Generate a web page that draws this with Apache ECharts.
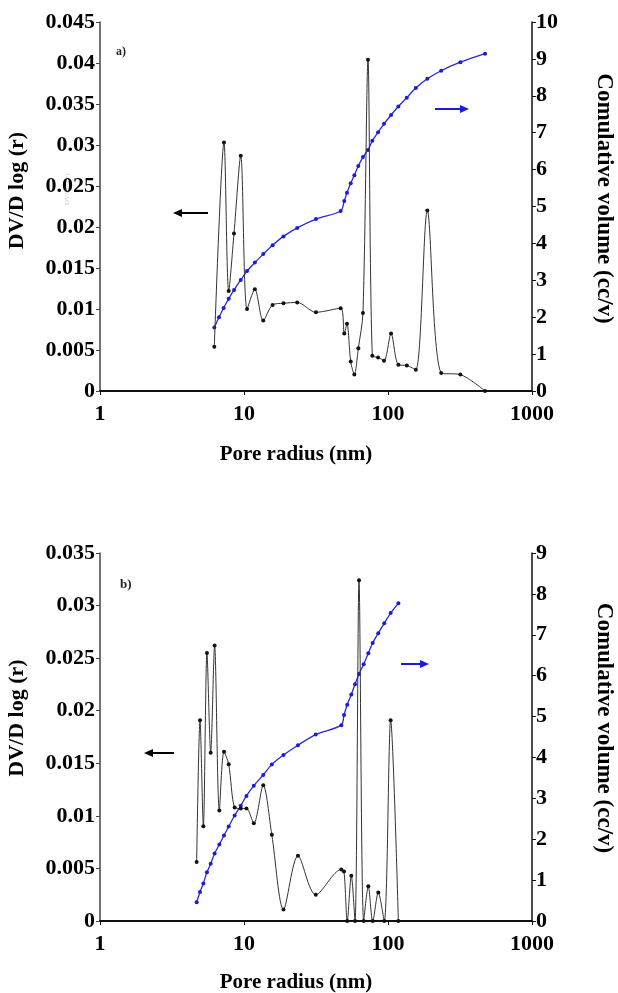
<!DOCTYPE html>
<html><head><meta charset="utf-8">
<script src="https://cdn.jsdelivr.net/npm/echarts@6/dist/echarts.min.js"></script>
<style>html,body{margin:0;padding:0;background:#fff}#c{width:618px;height:993px}</style>
</head><body><div id="c"></div>
<script>
// ---- Chart a) ----
const aPsdR = [6.22,7.26,7.83,8.52,9.49,10.5,11.9,13.6,15.8,18.8,23.4,31.6,46.9,49.7,51.9,55.1,58.4,62.2,67,72.6,77.8,85.3,93.8,105,118,135,156,187.5,234,318,472];
const aPsd  = [0.0054,0.0303,0.0122,0.0192,0.0287,0.0100,0.0124,0.0086,0.0105,0.0107,0.0108,0.0096,0.0101,0.0070,0.0082,0.0036,0.0020,0.0052,0.0095,0.0404,0.0043,0.0041,0.0037,0.0070,0.0032,0.0031,0.0026,0.0220,0.0022,0.0020,0.0];
const aCumR = [6.22,6.7,7.22,7.83,8.53,9.49,10.5,11.9,13.6,15.8,18.8,23.4,31.6,46.9,49.7,51.9,55.1,58.4,62.2,67,72.6,77.8,85.3,93.8,105,118,135,156,187.5,234,318,472];
const aCum  = [1.72,2.00,2.25,2.50,2.74,3.01,3.25,3.48,3.71,3.95,4.19,4.42,4.66,4.88,5.15,5.37,5.63,5.85,6.10,6.34,6.53,6.78,7.01,7.24,7.48,7.71,7.95,8.21,8.46,8.68,8.91,9.14];
// ---- Chart b) ----
const bR   = [4.69,4.95,5.22,5.53,5.87,6.25,6.74,7.26,7.83,8.61,9.49,10.4,11.7,13.6,15.6,18.8,23.7,31.5,47.4,49.5,52.1,55.6,59,62.9,67.8,73,78.3,85.6,94.2,104.3,118];
const bPsd = [0.0056,0.0191,0.0090,0.0255,0.0160,0.0262,0.0105,0.0161,0.0149,0.0108,0.0107,0.0107,0.0093,0.0129,0.0082,0.0011,0.0062,0.0025,0.0049,0.0047,0.0,0.0043,0.0,0.0324,0.0,0.0033,0.0,0.0027,0.0,0.0191,0.0];
const bCum = [0.46,0.71,0.92,1.19,1.40,1.65,1.87,2.09,2.31,2.58,2.82,3.06,3.31,3.57,3.83,4.06,4.30,4.56,4.79,5.04,5.29,5.54,5.79,6.04,6.28,6.55,6.80,7.04,7.28,7.53,7.77];

const xTitle = 'Pore radius (nm)';
const yLeftTitle = 'DV/D log (r)';
const yRightTitle = 'Comulative volume (cc/v)';

const FONT = '"Liberation Serif","Times New Roman",serif';
const pair = (xs, ys) => xs.map((x, i) => [x, ys[i]]);

function xAxis(gi, gap) {
  return {
    type: 'log', logBase: 10, min: 1, max: 1000, gridIndex: gi,
    name: xTitle, nameLocation: 'middle', nameGap: gap,
    nameTextStyle: {fontFamily: FONT, fontWeight: 'bold', fontSize: 21, color: '#000', padding: [0, 40, 0, 0]},
    axisLine: {lineStyle: {color: '#111', width: 2}},
    axisTick: {show: true, length: 4, lineStyle: {color: '#111'}},
    minorTick: {show: false},
    splitLine: {show: false},
    axisLabel: {fontFamily: FONT, fontWeight: 'bold', fontSize: 22, color: '#000', margin: 12,
      formatter: v => String(Math.round(v))}
  };
}
function yLeft(gi, max, shift) {
  return {
    type: 'value', gridIndex: gi, min: 0, max: max, interval: 0.005, position: 'left',
    name: yLeftTitle, nameLocation: 'middle', nameGap: 72, nameRotate: 90,
    nameTextStyle: {fontFamily: FONT, fontWeight: 'bold', fontSize: 22, color: '#000', padding: [0, 0, 0, shift]},
    axisLine: {show: true, lineStyle: {color: '#444', width: 1.5}},
    axisTick: {show: true, length: 4, lineStyle: {color: '#444'}},
    splitLine: {show: false},
    axisLabel: {fontFamily: FONT, fontWeight: 'bold', fontSize: 22, color: '#000', margin: 5,
      formatter: v => String(parseFloat(v.toFixed(3)))}
  };
}
function yRight(gi, max, shift) {
  return {
    type: 'value', gridIndex: gi, min: 0, max: max, interval: 1, position: 'right',
    name: yRightTitle, nameLocation: 'middle', nameGap: 60, nameRotate: -90,
    nameTextStyle: {fontFamily: FONT, fontWeight: 'bold', fontSize: 23, color: '#000', padding: [0, shift, 0, 0]},
    axisLine: {show: true, lineStyle: {color: '#111', width: 1.5}},
    axisTick: {show: true, length: 4, lineStyle: {color: '#111'}},
    splitLine: {show: false},
    axisLabel: {fontFamily: FONT, fontWeight: 'bold', fontSize: 22, color: '#000', margin: 4}
  };
}
function psdSeries(xi, yi, data) {
  return {type: 'line', xAxisIndex: xi, yAxisIndex: yi, data: data, smooth: 0.3,
    symbol: 'circle', symbolSize: 4, lineStyle: {color: '#333', width: 1},
    itemStyle: {color: '#111'}, z: 3};
}
function cumSeries(xi, yi, data) {
  return {type: 'line', xAxisIndex: xi, yAxisIndex: yi, data: data, smooth: 0.3,
    symbol: 'circle', symbolSize: 4, lineStyle: {color: '#2a2ad0', width: 1.3},
    itemStyle: {color: '#1a1ae0'}, z: 2};
}
function arrow(x1, x2, y, color) {
  const dir = x2 > x1 ? 1 : -1;
  return {type: 'group', children: [
    {type: 'line', shape: {x1: x1, y1: y, x2: x2 - dir * 6, y2: y}, style: {stroke: color, lineWidth: 2}},
    {type: 'polygon', shape: {points: [[x2, y], [x2 - dir * 9, y - 4], [x2 - dir * 9, y + 4]]}, style: {fill: color}}
  ]};
}

const chart = echarts.init(document.getElementById('c'), null, {renderer: 'canvas'});
chart.setOption({
  animation: false,
  backgroundColor: '#fff',
  grid: [
    {left: 100, right: 86, top: 22, height: 369, containLabel: false, outerBoundsMode: 'none'},
    {left: 100, right: 86, top: 553, height: 368, containLabel: false, outerBoundsMode: 'none'}
  ],
  xAxis: [xAxis(0, 53), xAxis(1, 51)],
  yAxis: [yLeft(0, 0.045, 32), yRight(0, 10, 16), yLeft(1, 0.035, 38), yRight(1, 9, 18)],
  series: [
    psdSeries(0, 0, pair(aPsdR, aPsd)),
    cumSeries(0, 1, pair(aCumR, aCum)),
    psdSeries(1, 2, pair(bR, bPsd)),
    cumSeries(1, 3, pair(bR, bCum))
  ],
  graphic: [
    {type: 'text', left: 116, top: 46, style: {text: 'a)', font: 'bold 12px ' + FONT, fill: '#222'}},
    {type: 'text', left: 120, top: 578, style: {text: 'b)', font: 'bold 13px ' + FONT, fill: '#222'}},
    {type: 'text', x: 64, y: 205, rotation: Math.PI / 2, style: {text: 'DV/dlog(r)', font: '7px ' + FONT, fill: '#ccc'}},
    arrow(208, 173, 213, '#000'),
    arrow(435, 469, 109, '#1a1ae0'),
    arrow(174, 144, 753, '#000'),
    arrow(401, 429, 664, '#1a1ae0')
  ]
});
</script></body></html>
